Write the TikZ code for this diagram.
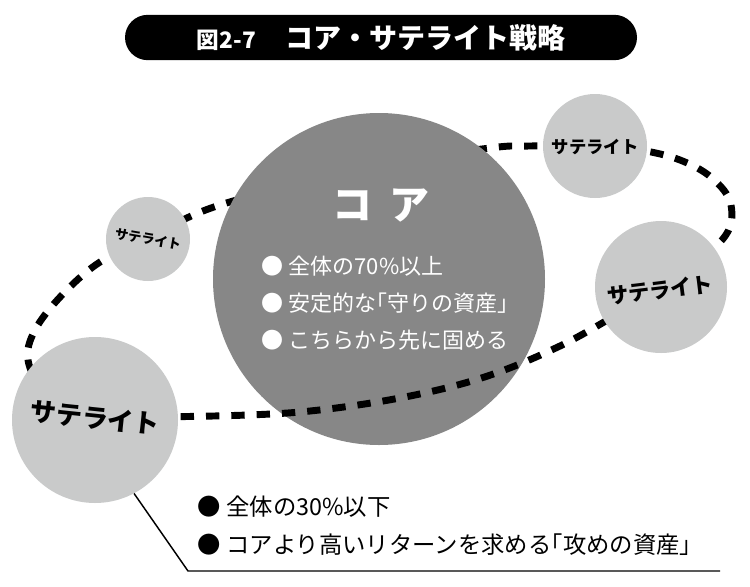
\documentclass[tikz,border=0pt]{standalone}
\usepackage{fontspec}
\setmainfont{Noto Sans CJK JP}
\definecolor{coregray}{HTML}{878787}
\definecolor{satgray}{HTML}{C9CACA}
\newcommand{\hkl}{\kern-0.5em}
\newcommand{\bul}{●\hspace{0.25em}}
\begin{document}
\begin{tikzpicture}[x=0.75pt,y=-0.75pt,
  sat/.style={circle, fill=satgray, inner sep=0pt},
  satlabel/.style={inner sep=0pt, font=\bfseries\fontsize{#1}{#1}\selectfont},
  orbit/.style={line width=5.2pt, dash pattern=on 10pt off 9pt},
  core/.style={circle, fill=coregray, inner sep=0pt},
  titlebox/.style={fill=black, text=white, rounded corners=17pt, minimum width=384pt, minimum height=34pt, inner sep=0pt, font=\bfseries},
]
\useasboundingbox (0,0) rectangle (750,586);
\node[titlebox] (title) at (381,37.5) {\fontsize{17}{17}\selectfont 図2-7\hspace{22pt}\fontsize{21}{21}\selectfont コア・サテライト戦略};

% orbit, back part (behind the core)
\draw[orbit] plot[smooth, tension=0.6] coordinates {(661,287) (722,240) (731,205) (712,178) (680,160) (640,150) (595,146) (530,146) (490,148) (380,165) (220,205) (148,239) (100,262) (62,295) (35,330) (28,360) (45,390) (90,415)};

% core
\node[core, minimum size=249pt] (core) at (379,279) {};
\node[text=white, font=\bfseries\fontsize{30}{30}\selectfont] (coretitle) at (381,205) {コ\hspace{0.45em}ア};
\node[text=white, align=left, anchor=west, inner sep=0pt, font=\fontsize{16.5}{28}\selectfont] (corelist) at (261,303) {\bul 全体の70\%以上\\\bul 安定的な\hkl「守りの資産」\\\bul こちらから先に固める};

% orbit, front part (over the core)
\draw[orbit] plot[smooth, tension=0.6] coordinates {(130,417) (300,412) (450,387) (560,346) (661,287)};

% satellites
\node[sat, minimum size=63pt] (s1) at (148,239) {};
\node[satlabel=10, rotate=-10] (s1t) at (s1) {サテライト};
\node[sat, minimum size=78pt] (s2) at (595,146) {};
\node[satlabel=13] (s2t) at (595,147) {サテライト};
\node[sat, minimum size=99pt] (s3) at (661,287) {};
\node[satlabel=16, rotate=7] (s3t) at (660,290) {サテライト};
\node[sat, minimum size=124.5pt] (s4) at (95,420) {};
\node[satlabel=19.5, rotate=-6] (s4t) at (95,418) {サテライト};

% callout
\coordinate (bend) at (188,571);
\coordinate (lineend) at (720,571);
\draw[line width=1.1pt] (s4.-62) -- (bend) -- (lineend);
\node[anchor=west, align=left, inner sep=0pt, font=\fontsize{17.5}{28.5}\selectfont] (satlist) at (197,526) {\bul 全体の30\%以下\\\bul コアより高いリターンを求める\hkl「攻めの資産」};
\end{tikzpicture}
\end{document}
